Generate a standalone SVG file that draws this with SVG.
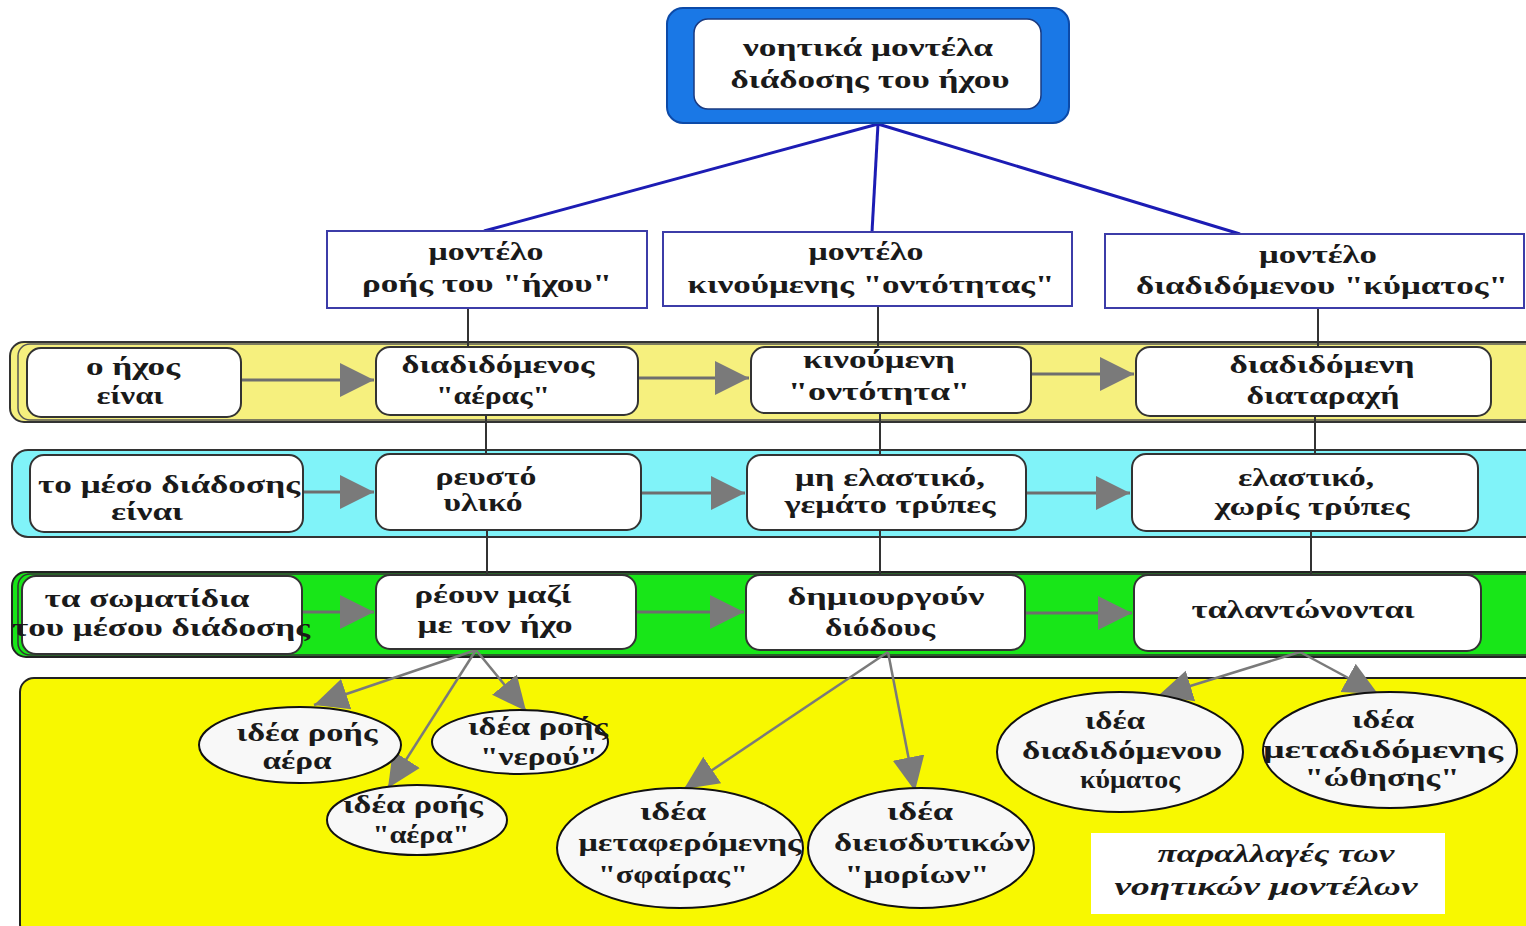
<svg xmlns="http://www.w3.org/2000/svg" width="1526" height="926" viewBox="0 0 1526 926">
<style>
.t{font-family:"Liberation Serif","DejaVu Serif",serif;font-weight:bold;font-size:25px;fill:#1a1a1a;text-anchor:middle}
.it{font-style:italic}
.box{fill:#fff;stroke:#333;stroke-width:2}
.mbox{fill:#fff;stroke:#3c3ca8;stroke-width:2}
.ell{fill:#f8f8f8;stroke:#111;stroke-width:2}
.blue{stroke:#1c1cb4;stroke-width:3;fill:none}
.vl{stroke:#333;stroke-width:2;fill:none}
.ar{stroke:#6e6e6e;stroke-width:3;fill:none;marker-end:url(#ah)}
.ar2{stroke:#7a7a7a;stroke-width:2.5;fill:none;marker-end:url(#ah2)}
</style>
<defs>
<marker id="ah" markerUnits="userSpaceOnUse" markerWidth="36" markerHeight="36" refX="34" refY="17" orient="auto" viewBox="0 0 36 36">
<path d="M0,0 L34,17 L0,34 z" fill="#7a7a7a"/>
</marker>
<marker id="ah2" markerUnits="userSpaceOnUse" markerWidth="40" markerHeight="40" refX="34" refY="18" orient="auto" viewBox="0 0 40 40">
<path d="M0,2 L34,18 L0,34 z" fill="#7a7a7a"/>
</marker>
</defs>
<rect width="1526" height="926" fill="#fff"/>
<g id="bands">
<rect x="10" y="342" width="1530" height="80" rx="14" fill="#f6f07e" stroke="#333" stroke-width="2"/>
<rect x="18" y="344" width="1520" height="76" rx="12" fill="#f6f07e" stroke="#555" stroke-width="1.5"/>
<rect x="12" y="450" width="1528" height="87" rx="16" fill="#80f3f9" stroke="#333" stroke-width="2"/>
<rect x="12" y="572" width="1528" height="85" rx="14" fill="#18e618" stroke="#222" stroke-width="2"/>
<rect x="18" y="574" width="1520" height="81" rx="12" fill="#18e618" stroke="#333" stroke-width="1.5"/>
<rect x="20" y="678" width="1520" height="260" rx="14" fill="#f8f800" stroke="#222" stroke-width="2"/>
</g>
<g id="connectors">
<line class="blue" x1="878" y1="124" x2="484" y2="231"/>
<line class="blue" x1="878" y1="124" x2="872" y2="232"/>
<line class="blue" x1="878" y1="124" x2="1240" y2="234"/>
<line class="vl" x1="468" y1="308" x2="468" y2="347"/>
<line class="vl" x1="486" y1="415" x2="486" y2="454"/>
<line class="vl" x1="487" y1="530" x2="487" y2="575"/>
<line class="vl" x1="878" y1="306" x2="878" y2="347"/>
<line class="vl" x1="880" y1="413" x2="880" y2="455"/>
<line class="vl" x1="880" y1="530" x2="880" y2="575"/>
<line class="vl" x1="1318" y1="308" x2="1318" y2="347"/>
<line class="vl" x1="1315" y1="416" x2="1315" y2="454"/>
<line class="vl" x1="1311" y1="531" x2="1311" y2="575"/>
<line class="ar" x1="241" y1="380" x2="374" y2="380"/>
<line class="ar" x1="638" y1="378" x2="749" y2="378"/>
<line class="ar" x1="1031" y1="374" x2="1134" y2="374"/>
<line class="ar" x1="303" y1="492" x2="374" y2="492"/>
<line class="ar" x1="641" y1="493" x2="745" y2="493"/>
<line class="ar" x1="1026" y1="493" x2="1130" y2="493"/>
<line class="ar" x1="302" y1="612" x2="374" y2="612"/>
<line class="ar" x1="636" y1="612" x2="744" y2="612"/>
<line class="ar" x1="1025" y1="613" x2="1132" y2="613"/>
<line class="ar2" x1="476" y1="650" x2="314" y2="705"/>
<line class="ar2" x1="476" y1="650" x2="526" y2="711"/>
<line class="ar2" x1="476" y1="650" x2="388" y2="788"/>
<line class="ar2" x1="888" y1="652" x2="684" y2="789"/>
<line class="ar2" x1="888" y1="652" x2="915" y2="791"/>
<line class="ar2" x1="1300" y1="652" x2="1158" y2="696"/>
<line class="ar2" x1="1300" y1="652" x2="1378" y2="694"/>
</g>
<g id="root">
<rect x="667" y="8" width="402" height="115" rx="16" fill="#1a78e6" stroke="#0c4aa8" stroke-width="2"/>
<rect x="694" y="19" width="347" height="90" rx="14" fill="#fff" stroke="#1a3a80" stroke-width="1.5"/>
<text class="t" x="868" y="56" textLength="250" lengthAdjust="spacingAndGlyphs">νοητικά μοντέλα</text>
<text class="t" x="870" y="88" textLength="279" lengthAdjust="spacingAndGlyphs">διάδοσης του ήχου</text>
</g>
<g id="model-flow">
<rect class="mbox" x="327" y="231" width="320" height="77"/>
<text class="t" x="486" y="260" textLength="115" lengthAdjust="spacingAndGlyphs">μοντέλο</text>
<text class="t" x="487" y="292" textLength="250" lengthAdjust="spacingAndGlyphs">ροής του "ήχου"</text>
</g>
<g id="model-entity">
<rect class="mbox" x="663" y="232" width="409" height="74"/>
<text class="t" x="866" y="260" textLength="115" lengthAdjust="spacingAndGlyphs">μοντέλο</text>
<text class="t" x="871" y="293" textLength="367" lengthAdjust="spacingAndGlyphs">κινούμενης "οντότητας"</text>
</g>
<g id="model-wave">
<rect class="mbox" x="1105" y="234" width="419" height="74"/>
<text class="t" x="1318" y="263" textLength="118" lengthAdjust="spacingAndGlyphs">μοντέλο</text>
<text class="t" x="1322" y="294" textLength="372" lengthAdjust="spacingAndGlyphs">διαδιδόμενου "κύματος"</text>
</g>
<g id="r1-label">
<rect class="box" x="27" y="348" width="214" height="69" rx="14"/>
<text class="t" x="133" y="375" textLength="94" lengthAdjust="spacingAndGlyphs">ο ήχος</text>
<text class="t" x="130" y="404" textLength="67" lengthAdjust="spacingAndGlyphs">είναι</text>
</g>
<g id="r1-air">
<rect class="box" x="376" y="347" width="262" height="68" rx="14"/>
<text class="t" x="498" y="373" textLength="193" lengthAdjust="spacingAndGlyphs">διαδιδόμενος</text>
<text class="t" x="493" y="404" textLength="114" lengthAdjust="spacingAndGlyphs">"αέρας"</text>
</g>
<g id="r1-entity">
<rect class="box" x="751" y="347" width="280" height="66" rx="14"/>
<text class="t" x="879" y="368" textLength="152" lengthAdjust="spacingAndGlyphs">κινούμενη</text>
<text class="t" x="879" y="400" textLength="182" lengthAdjust="spacingAndGlyphs">"οντότητα"</text>
</g>
<g id="r1-wave">
<rect class="box" x="1136" y="347" width="355" height="69" rx="14"/>
<text class="t" x="1322" y="373" textLength="185" lengthAdjust="spacingAndGlyphs">διαδιδόμενη</text>
<text class="t" x="1323" y="404" textLength="153" lengthAdjust="spacingAndGlyphs">διαταραχή</text>
</g>
<g id="r2-label">
<rect class="box" x="30" y="455" width="273" height="77" rx="14"/>
<text class="t" x="169" y="493" textLength="262" lengthAdjust="spacingAndGlyphs">το μέσο διάδοσης</text>
<text class="t" x="147" y="520" textLength="72" lengthAdjust="spacingAndGlyphs">είναι</text>
</g>
<g id="r2-fluid">
<rect class="box" x="376" y="454" width="265" height="76" rx="14"/>
<text class="t" x="486" y="485" textLength="101" lengthAdjust="spacingAndGlyphs">ρευστό</text>
<text class="t" x="483" y="511" textLength="79" lengthAdjust="spacingAndGlyphs">υλικό</text>
</g>
<g id="r2-holes">
<rect class="box" x="747" y="455" width="279" height="75" rx="14"/>
<text class="t" x="890" y="486" textLength="190" lengthAdjust="spacingAndGlyphs">μη ελαστικό,</text>
<text class="t" x="890" y="513" textLength="211" lengthAdjust="spacingAndGlyphs">γεμάτο τρύπες</text>
</g>
<g id="r2-elastic">
<rect class="box" x="1132" y="454" width="346" height="77" rx="14"/>
<text class="t" x="1306" y="486" textLength="136" lengthAdjust="spacingAndGlyphs">ελαστικό,</text>
<text class="t" x="1312" y="515" textLength="195" lengthAdjust="spacingAndGlyphs">χωρίς τρύπες</text>
</g>
<g id="r3-label">
<rect class="box" x="22" y="576" width="280" height="78" rx="14"/>
<text class="t" x="147" y="607" textLength="205" lengthAdjust="spacingAndGlyphs">τα σωματίδια</text>
<text class="t" x="161" y="636" textLength="298" lengthAdjust="spacingAndGlyphs">του μέσου διάδοσης</text>
</g>
<g id="r3-flow">
<rect class="box" x="376" y="575" width="260" height="74" rx="14"/>
<text class="t" x="493" y="603" textLength="157" lengthAdjust="spacingAndGlyphs">ρέουν μαζί</text>
<text class="t" x="495" y="633" textLength="155" lengthAdjust="spacingAndGlyphs">με τον ήχο</text>
</g>
<g id="r3-paths">
<rect class="box" x="746" y="575" width="279" height="75" rx="14"/>
<text class="t" x="886" y="605" textLength="197" lengthAdjust="spacingAndGlyphs">δημιουργούν</text>
<text class="t" x="880" y="636" textLength="110" lengthAdjust="spacingAndGlyphs">διόδους</text>
</g>
<g id="r3-oscillate">
<rect class="box" x="1134" y="575" width="347" height="76" rx="14"/>
<text class="t" x="1303" y="618" textLength="223" lengthAdjust="spacingAndGlyphs">ταλαντώνονται</text>
</g>
<g id="e-air">
<ellipse class="ell" cx="300" cy="745" rx="101" ry="38"/>
<text class="t" x="307" y="741" textLength="141" lengthAdjust="spacingAndGlyphs">ιδέα ροής</text>
<text class="t" x="297" y="769" textLength="69" lengthAdjust="spacingAndGlyphs">αέρα</text>
</g>
<g id="e-water">
<ellipse class="ell" cx="520" cy="742" rx="88" ry="32"/>
<text class="t" x="538" y="735" textLength="140" lengthAdjust="spacingAndGlyphs">ιδέα ροής</text>
<text class="t" x="539" y="765" textLength="118" lengthAdjust="spacingAndGlyphs">"νερού"</text>
</g>
<g id="e-air2">
<ellipse class="ell" cx="417" cy="820" rx="90" ry="35"/>
<text class="t" x="413" y="813" textLength="140" lengthAdjust="spacingAndGlyphs">ιδέα ροής</text>
<text class="t" x="421" y="843" textLength="97" lengthAdjust="spacingAndGlyphs">"αέρα"</text>
</g>
<g id="e-sphere">
<ellipse class="ell" cx="680" cy="848" rx="123" ry="60"/>
<text class="t" x="673" y="820" textLength="66" lengthAdjust="spacingAndGlyphs">ιδέα</text>
<text class="t" x="690" y="851" textLength="223" lengthAdjust="spacingAndGlyphs">μεταφερόμενης</text>
<text class="t" x="673" y="883" textLength="150" lengthAdjust="spacingAndGlyphs">"σφαίρας"</text>
</g>
<g id="e-molecules">
<ellipse class="ell" cx="921" cy="848" rx="113" ry="60"/>
<text class="t" x="920" y="820" textLength="66" lengthAdjust="spacingAndGlyphs">ιδέα</text>
<text class="t" x="932" y="851" textLength="196" lengthAdjust="spacingAndGlyphs">διεισδυτικών</text>
<text class="t" x="917" y="883" textLength="145" lengthAdjust="spacingAndGlyphs">"μορίων"</text>
</g>
<g id="e-wave">
<ellipse class="ell" cx="1120" cy="752" rx="123" ry="60"/>
<text class="t" x="1115" y="729" textLength="60" lengthAdjust="spacingAndGlyphs">ιδέα</text>
<text class="t" x="1122" y="759" textLength="200" lengthAdjust="spacingAndGlyphs">διαδιδόμενου</text>
<text class="t" x="1130" y="788" textLength="100" lengthAdjust="spacingAndGlyphs">κύματος</text>
</g>
<g id="e-push">
<ellipse class="ell" cx="1390" cy="750" rx="127" ry="58"/>
<text class="t" x="1383" y="728" textLength="62" lengthAdjust="spacingAndGlyphs">ιδέα</text>
<text class="t" x="1383" y="758" textLength="240" lengthAdjust="spacingAndGlyphs">μεταδιδόμενης</text>
<text class="t" x="1382" y="786" textLength="155" lengthAdjust="spacingAndGlyphs">"ώθησης"</text>
</g>
<g id="variations-label">
<rect x="1091" y="833" width="354" height="81" fill="#fff"/>
<text class="t it" x="1276" y="862" textLength="237" lengthAdjust="spacingAndGlyphs">παραλλαγές των</text>
<text class="t it" x="1266" y="895" textLength="303" lengthAdjust="spacingAndGlyphs">νοητικών μοντέλων</text>
</g>
</svg>
